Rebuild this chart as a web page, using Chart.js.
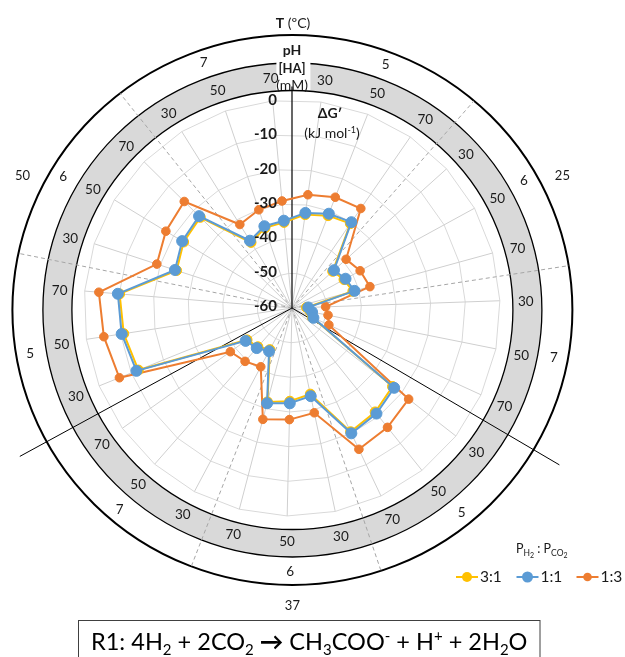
<!DOCTYPE html>
<html>
<head>
<meta charset="utf-8">
<style>
html,body{margin:0;padding:0;background:#fff;}
#wrap{width:625px;height:657px;position:relative;overflow:hidden;}
canvas{display:block;}
</style>
<script src="https://cdn.jsdelivr.net/npm/chart.js@4.4.1/dist/chart.umd.min.js"></script>
</head>
<body>
<div id="wrap"><canvas id="c" width="625" height="657"></canvas></div>
<script>
// Conditions: temperature sectors, pH sub-sectors, acid concentration spokes
const temperatures = [25, 37, 50];
const phValues = [5, 6, 7];
const acidConc = [30, 50, 70];
const gTicks = [0, -10, -20, -30, -40, -50, -60];

// ΔG' (kJ/mol) for each H2:CO2 partial-pressure ratio
const ratio31 = [-32.8, -31.4, -30.4, -44.2, -42.9, -41.8, -55.8, -54.6, -53.6,
                 -23.2, -21.6, -20.5, -34.6, -33.1, -32.0, -46.4, -45.1, -44.1,
                 -12.2, -10.9, -10.1, -25.0, -23.4, -22.8, -37.7, -35.6, -35.2];
const ratio11 = [-32.3, -30.8, -29.9, -43.7, -42.4, -41.3, -55.3, -54.1, -53.2,
                 -22.6, -21.0, -20.0, -34.0, -32.5, -31.6, -45.9, -44.6, -43.6,
                 -11.6, -10.3, -9.6, -24.5, -22.9, -22.3, -37.1, -35.1, -34.7];
const ratio13 = [-27.0, -25.7, -25.1, -39.0, -37.6, -36.7, -50.3, -49.4, -48.3,
                 -17.3, -15.9, -14.9, -29.1, -27.8, -26.8, -40.8, -39.5, -38.2,
                 -6.3, -5.1, -4.1, -19.0, -17.4, -16.3, -31.6, -30.1, -29.0];
const seriesNames = ['3:1', '1:1', '1:3'];
const seriesColors = ['#FFC000', '#5B9BD5', '#ED7D31'];

const categories = [];
temperatures.forEach(t => phValues.forEach(p => acidConc.forEach(c =>
  categories.push(t + ' °C | pH ' + p + ' | ' + c + ' mM'))));

const FONT = 'Lato, "Liberation Sans", sans-serif';
const START_ANGLE = 8;
const TXT = '#1a1a1a';

function polar(cx, cy, rx, ry, deg) {
  const a = deg * Math.PI / 180;
  return [cx + rx * Math.sin(a), cy - ry * Math.cos(a)];
}
function drawRuns(ctx, runs, x, y, align) {
  let w = 0;
  runs.forEach(r => { ctx.font = r.f; r.w = ctx.measureText(r.t).width; w += r.w; });
  let xx = align === 'center' ? x - w / 2 : (align === 'right' ? x - w : x);
  runs.forEach(r => { ctx.font = r.f; ctx.fillText(r.t, xx, y + (r.dy || 0)); xx += r.w; });
  return w;
}

// Concentric rings, shaded [HA] band, sector dividers and all annotation text
const decorations = {
  id: 'decorations',
  beforeDraw(chart) {
    const s = chart.scales.r, ctx = chart.ctx;
    const cx = s.xCenter + 0.4, cy = s.yCenter + 2;
    ctx.save();
    ctx.beginPath();
    ctx.ellipse(cx, cy, 249.5, 247, 0, 0, Math.PI * 2);
    ctx.moveTo(cx + 220.5, cy);
    ctx.ellipse(cx, cy, 220.5, 219.5, 0, 0, Math.PI * 2);
    ctx.fillStyle = '#d9d9d9';
    ctx.fill('evenodd');
    ctx.strokeStyle = '#000';
    ctx.lineWidth = 1.3;
    ctx.beginPath(); ctx.ellipse(cx, cy, 249.5, 247, 0, 0, Math.PI * 2); ctx.stroke();
    // white panel behind the [HA] caption
    ctx.fillStyle = '#fff';
    ctx.fillRect(cx - 16, cy - 249, 34, 29);
    ctx.beginPath(); ctx.ellipse(cx, cy, 220.5, 219.5, 0, 0, Math.PI * 2); ctx.stroke();
    ctx.lineWidth = 2;
    ctx.beginPath(); ctx.ellipse(cx, cy, 280, 275, 0, 0, Math.PI * 2); ctx.stroke();
    ctx.restore();
  },
  beforeDatasetsDraw(chart) {
    const s = chart.scales.r, ctx = chart.ctx;
    const x0 = s.xCenter, y0 = s.yCenter;
    const cx = s.xCenter + 0.4, cy = s.yCenter + 2;
    ctx.save();
    ctx.beginPath(); ctx.ellipse(cx, cy, 280, 275, 0, 0, Math.PI * 2); ctx.clip();
    ctx.strokeStyle = '#a6a6a6';
    ctx.lineWidth = 1;
    ctx.setLineDash([4, 3]);
    for (let j = 1; j < temperatures.length * phValues.length; j++) {
      if (j % phValues.length === 0) continue;
      const [x, y] = polar(x0, y0, 320, 320, j * 40 + 1.3);
      ctx.beginPath(); ctx.moveTo(x0, y0); ctx.lineTo(x, y); ctx.stroke();
    }
    ctx.restore();
    ctx.save();
    ctx.strokeStyle = '#000';
    ctx.lineWidth = 1.2;
    const [tx, ty] = polar(x0, y0, 0, cy - y0 + 219.5, 0);
    ctx.beginPath(); ctx.moveTo(x0, y0); ctx.lineTo(tx, ty); ctx.stroke();
    ctx.lineWidth = 1;
    [120.4, 241.4].forEach(a => {
      const [x, y] = polar(x0, y0, 310, 310, a);
      ctx.beginPath(); ctx.moveTo(x0, y0); ctx.lineTo(x, y); ctx.stroke();
    });
    ctx.restore();
  },
  afterDraw(chart) {
    const s = chart.scales.r, ctx = chart.ctx;
    const x0 = s.xCenter, y0 = s.yCenter;
    const cx = s.xCenter + 0.4, cy = s.yCenter + 2;
    const n = categories.length;
    ctx.save();
    ctx.fillStyle = TXT;
    ctx.textAlign = 'center';
    ctx.textBaseline = 'middle';
    // [HA] labels in the shaded band
    ctx.font = '13.5px ' + FONT;
    categories.forEach((c, i) => {
      const [x, y] = polar(cx, cy, 233.5, 232, START_ANGLE + i * 360 / n);
      ctx.fillText(String(acidConc[i % acidConc.length]), x, y);
    });
    // pH labels in the outer ring
    ctx.font = '13.5px ' + FONT;
    for (let j = 0; j < temperatures.length * phValues.length; j++) {
      const [x, y] = polar(cx, cy, 266, 262, j * 40 + 20.5);
      ctx.fillText(String(phValues[j % phValues.length]), x, y);
    }
    // temperature labels outside the rings
    ctx.font = '13px ' + FONT;
    temperatures.forEach((t, k) => {
      const [x, y] = polar(cx, cy, 303, 296, k * 120 + 60 + [3, 0, -3][k]);
      ctx.fillText(String(t), x, y);
    });
    // radial axis values
    ctx.textAlign = 'right';
    ctx.font = 'bold 15px ' + FONT;
    gTicks.forEach(v => {
      const r = s.getDistanceFromCenterForValue(v);
      ctx.fillText(String(v), x0 - 15, y0 - 2 - r * 0.99);
    });
    // axis captions
    ctx.textAlign = 'left';
    ctx.textBaseline = 'alphabetic';
    drawRuns(ctx, [{ t: 'T', f: 'bold 14px ' + FONT }, { t: ' (ºC)', f: '14px ' + FONT }], 293, 28, 'center');
    drawRuns(ctx, [{ t: 'pH', f: 'bold 14px ' + FONT }], 292, 55, 'center');
    drawRuns(ctx, [{ t: '[HA]', f: 'bold 13px ' + FONT }], 292, 73, 'center');
    drawRuns(ctx, [{ t: '(mM)', f: '14px ' + FONT }], 292, 90, 'center');
    drawRuns(ctx, [{ t: 'ΔG′', f: 'bold 14px ' + FONT }], 330, 118, 'center');
    drawRuns(ctx, [{ t: '(kJ mol', f: '14px ' + FONT }, { t: '-1', f: '9px ' + FONT, dy: -5 },
                   { t: ')', f: '14px ' + FONT }], 332, 138, 'center');

    // legend
    drawRuns(ctx, [{ t: 'P', f: '12.5px ' + FONT }, { t: 'H', f: '8.5px ' + FONT, dy: 3 },
                   { t: '2', f: '7px ' + FONT, dy: 5 }, { t: ' : P', f: '12.5px ' + FONT },
                   { t: 'CO', f: '8.5px ' + FONT, dy: 3 }, { t: '2', f: '7px ' + FONT, dy: 5 }],
             516, 553, 'left');
    const legX = [456, 516.5, 576.5], legY = 577;
    const ds = chart.data.datasets;
    ds.forEach((d, i) => {
      const lx = legX[i];
      ctx.strokeStyle = d.borderColor; ctx.lineWidth = 2;
      ctx.beginPath(); ctx.moveTo(lx, legY); ctx.lineTo(lx + 22, legY); ctx.stroke();
      ctx.fillStyle = d.backgroundColor;
      ctx.beginPath(); ctx.arc(lx + 11, legY, d.pointRadius, 0, Math.PI * 2); ctx.fill();
      ctx.fillStyle = TXT;
      ctx.font = '15.5px ' + FONT;
      ctx.textBaseline = 'middle';
      ctx.fillText(d.label, lx + 24, legY);
      ctx.textBaseline = 'alphabetic';
    });

    // reaction box
    ctx.strokeStyle = '#404040'; ctx.lineWidth = 1;
    ctx.strokeRect(78.5, 620.5, 461.5, 45);
    const eq = size => {
      const m = size + 'px ' + FONT, sm = Math.round(size * 0.62) + 'px ' + FONT;
      return [{ t: 'R1: 4H', f: m }, { t: '2', f: sm, dy: size * 0.2 }, { t: ' + 2CO', f: m },
              { t: '2', f: sm, dy: size * 0.2 }, { t: ' ', f: m }, { t: '→', f: 'bold ' + m },
              { t: ' CH', f: m }, { t: '3', f: sm, dy: size * 0.2 }, { t: 'COO', f: m },
              { t: '-', f: sm, dy: -size * 0.38 }, { t: ' + H', f: m }, { t: '+', f: sm, dy: -size * 0.38 },
              { t: ' + 2H', f: m }, { t: '2', f: sm, dy: size * 0.2 }, { t: 'O', f: m }];
    };
    ctx.fillStyle = '#000';
    let w = 0;
    eq(25).forEach(r => { ctx.font = r.f; w += ctx.measureText(r.t).width; });
    const size = 25 * 437 / w;
    drawRuns(ctx, eq(size), 91, 650, 'left');
    ctx.restore();
  }
};

const seriesData = [ratio31, ratio11, ratio13];
const radii = [5, 5.5, 4.3];
const drawOrder = [2, 1, 3];

new Chart(document.getElementById('c'), {
  type: 'radar',
  data: {
    labels: categories,
    datasets: seriesNames.map((name, i) => ({
      label: name,
      data: seriesData[i],
      borderColor: seriesColors[i],
      backgroundColor: seriesColors[i],
      pointBackgroundColor: seriesColors[i],
      pointBorderColor: seriesColors[i],
      pointBorderWidth: 1,
      pointRadius: radii[i],
      borderWidth: 2,
      fill: false,
      tension: 0,
      order: drawOrder[i]
    }))
  },
  options: {
    responsive: false,
    animation: false,
    devicePixelRatio: 1,
    layout: { padding: { left: 84, top: 100, right: 125, bottom: 141 } },
    plugins: { legend: { display: false }, tooltip: { enabled: false } },
    scales: {
      r: {
        min: -60,
        max: 0,
        startAngle: START_ANGLE,
        ticks: { display: false, stepSize: 10 },
        pointLabels: { display: false },
        grid: { color: '#d9d9d9', lineWidth: 1 },
        angleLines: { color: '#cfcfcf', lineWidth: 1 }
      }
    }
  },
  plugins: [decorations]
});
</script>
</body>
</html>
